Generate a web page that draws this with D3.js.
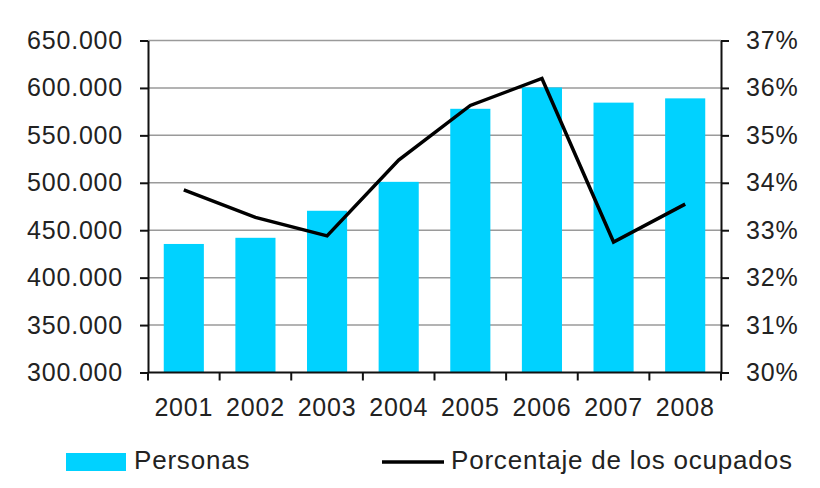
<script src="https://cdn.jsdelivr.net/npm/d3@7"></script>
<body style="margin:0;background:#fff"></body>
<script>
const years = ["2001", "2002", "2003", "2004", "2005", "2006", "2007", "2008"];
const personas = [435500, 442000, 470500, 501000, 578000, 600500, 584500, 589000];
const porcentaje = [33.85, 33.27, 32.88, 34.48, 35.63, 36.2, 32.75, 33.55];
const leftTicks = [300000, 350000, 400000, 450000, 500000, 550000, 600000, 650000];
const rightTicks = [30, 31, 32, 33, 34, 35, 36, 37];

const W = 820, H = 488;
const m = {top: 40.5, right: 99, bottom: 115.5, left: 148};
const iw = W - m.left - m.right, ih = H - m.top - m.bottom;
const font = "'Liberation Sans', Arial, sans-serif";

const svg = d3.select("body").append("svg")
    .attr("width", W).attr("height", H)
    .style("font-family", font);
const g = svg.append("g").attr("transform", `translate(${m.left},${m.top})`);

const x = d3.scaleBand().domain(years).range([0, iw]).paddingInner(0.44).paddingOuter(0.22);
const xb = d3.scaleBand().domain(years).range([0, iw]);
const yL = d3.scaleLinear().domain([300000, 650000]).range([ih, 0]);
const yR = d3.scaleLinear().domain([30, 37]).range([ih, 0]);
const fmt = d => d3.format(",")(d).replace(/,/g, ".");

// gridlines
g.append("g").selectAll("line").data(leftTicks.slice(1)).join("line")
    .attr("x1", 0).attr("x2", iw)
    .attr("y1", d => yL(d)).attr("y2", d => yL(d))
    .attr("stroke", "#9a9a9a").attr("stroke-width", 1.5);

// bars
g.append("g").selectAll("rect").data(personas).join("rect")
    .attr("x", (d, i) => x(years[i]))
    .attr("y", d => yL(d))
    .attr("width", x.bandwidth())
    .attr("height", d => ih - yL(d))
    .attr("fill", "#00d2ff");

// line
g.append("path").datum(porcentaje)
    .attr("fill", "none").attr("stroke", "#000").attr("stroke-width", 3.5)
    .attr("stroke-linejoin", "miter")
    .attr("d", d3.line().x((d, i) => xb(years[i]) + xb.bandwidth() / 2).y(d => yR(d)));

// axes
const styleAxis = sel => {
    sel.select(".domain").attr("stroke", "#111").attr("stroke-width", 2);
    sel.selectAll(".tick line").attr("stroke", "#111").attr("stroke-width", 2);
    sel.selectAll("text").attr("fill", "#222").style("font-size", "25px")
        .style("letter-spacing", "0.8px").style("font-family", font);
};
g.append("g")
    .call(d3.axisLeft(yL).tickValues(leftTicks).tickFormat(fmt).tickSize(8).tickSizeOuter(0).tickPadding(17))
    .call(styleAxis);
g.append("g").attr("transform", `translate(${iw},0)`)
    .call(d3.axisRight(yR).tickValues(rightTicks).tickFormat(d => d + "%").tickSize(8).tickSizeOuter(0).tickPadding(17))
    .call(styleAxis);
const xAxis = g.append("g").attr("transform", `translate(0,${ih})`)
    .call(d3.axisBottom(xb).tickSize(0).tickPadding(26))
    .call(styleAxis);
xAxis.select(".domain").remove();
g.append("line").attr("x1", 0).attr("x2", iw).attr("y1", ih).attr("y2", ih)
    .attr("stroke", "#111").attr("stroke-width", 2);
g.append("g").selectAll("line").data(d3.range(years.length + 1)).join("line")
    .attr("x1", d => d * xb.step()).attr("x2", d => d * xb.step())
    .attr("y1", ih).attr("y2", ih + 8)
    .attr("stroke", "#111").attr("stroke-width", 2);

// legend
const leg = svg.append("g").style("font-size", "26px").style("letter-spacing", "0.8px").attr("fill", "#222");
leg.append("rect").attr("x", 66).attr("y", 453).attr("width", 60).attr("height", 18).attr("fill", "#00d2ff");
leg.append("text").attr("x", 134).attr("y", 469).text("Personas");
leg.append("line").attr("x1", 382).attr("x2", 444).attr("y1", 462).attr("y2", 462)
    .attr("stroke", "#000").attr("stroke-width", 3.5);
leg.append("text").attr("x", 451).attr("y", 469).text("Porcentaje de los ocupados");
</script>
